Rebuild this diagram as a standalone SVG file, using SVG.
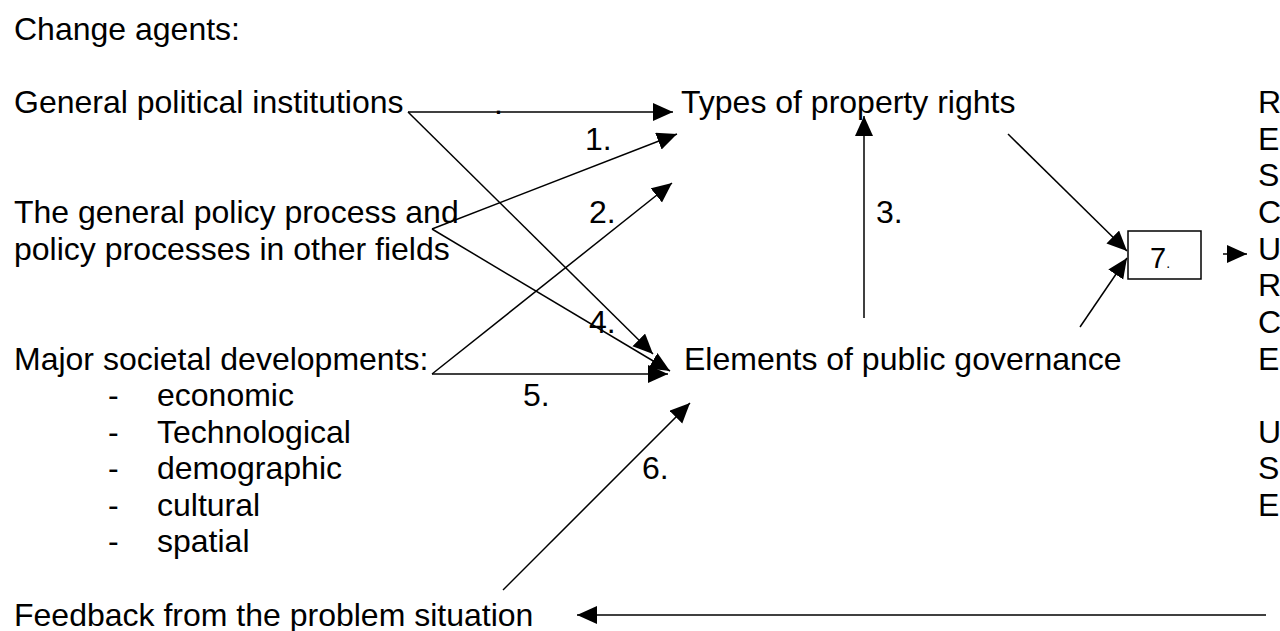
<svg xmlns="http://www.w3.org/2000/svg" width="1280" height="631" viewBox="0 0 1280 631">
<style>
text{font-family:"Liberation Sans",Arial,sans-serif;font-size:32px;fill:#000}
.c{stroke:#000;stroke-width:1.5;fill:none}
.a{marker-end:url(#ah)}
</style>
<defs>
<marker id="ah" markerUnits="userSpaceOnUse" markerWidth="21" markerHeight="19" refX="20" refY="9" orient="auto" viewBox="0 0 21 19">
<path d="M0,0 L20,9 L0,18 z" fill="#000"/>
</marker>
</defs>
<rect width="1280" height="631" fill="#fff"/>
<g id="connectors">
<line class="c a" x1="408" y1="112" x2="673" y2="112"/>
<line class="c a" x1="408" y1="112" x2="653" y2="354"/>
<line class="c a" x1="432" y1="229" x2="677" y2="134"/>
<line class="c a" x1="432" y1="229" x2="670" y2="371"/>
<line class="c a" x1="432" y1="374" x2="672" y2="183"/>
<line class="c a" x1="432" y1="374" x2="668" y2="374"/>
<line class="c a" x1="503" y1="590" x2="690" y2="403"/>
<line class="c a" x1="864" y1="318" x2="864" y2="116"/>
<line class="c a" x1="1008" y1="134" x2="1127" y2="251"/>
<line class="c a" x1="1080" y1="327" x2="1127" y2="258"/>
<line class="c a" x1="1223" y1="254" x2="1247" y2="254"/>
<line class="c a" x1="1266" y1="615" x2="577" y2="615"/>
</g>
<g id="n-change-agents"><text x="14" y="40">Change agents:</text></g>
<g id="n-general"><text x="14" y="113">General political institutions</text><text x="494" y="113.5">.</text></g>
<g id="n-policy"><text x="14" y="223">The general policy process and</text><text x="14" y="260">policy processes in other fields</text></g>
<g id="n-major">
<text x="14" y="370">Major societal developments:</text>
<text x="108" y="406">-</text><text x="157" y="406">economic</text>
<text x="108" y="443">-</text><text x="157" y="443">Technological</text>
<text x="108" y="479">-</text><text x="157" y="479">demographic</text>
<text x="108" y="516">-</text><text x="157" y="516">cultural</text>
<text x="108" y="552">-</text><text x="157" y="552">spatial</text>
</g>
<g id="n-feedback"><text x="14" y="626">Feedback from the problem situation</text></g>
<g id="n-types"><text x="681" y="113">Types of property rights</text></g>
<g id="n-elements"><text x="684" y="370">Elements of public governance</text></g>
<g id="n-box7"><rect x="1128" y="231" width="73" height="48" fill="none" stroke="#000" stroke-width="1.5"/><text x="1150" y="268" style="font-size:29px">7<tspan style="font-size:14px">.</tspan></text></g>
<g id="n-resource">
<text x="1258" y="113">R</text><text x="1258" y="150">E</text><text x="1258" y="186">S</text><text x="1258" y="223">C</text>
<text x="1258" y="260">U</text><text x="1258" y="296">R</text><text x="1258" y="333">C</text><text x="1258" y="370">E</text>
<text x="1258" y="443">U</text><text x="1258" y="479">S</text><text x="1258" y="516">E</text>
</g>
<g id="labels">
<text x="585" y="150">1.</text>
<text x="589" y="223">2.</text>
<text x="876" y="223">3.</text>
<text x="589" y="333">4.</text>
<text x="523" y="406">5.</text>
<text x="642" y="479">6.</text>
</g>
</svg>
